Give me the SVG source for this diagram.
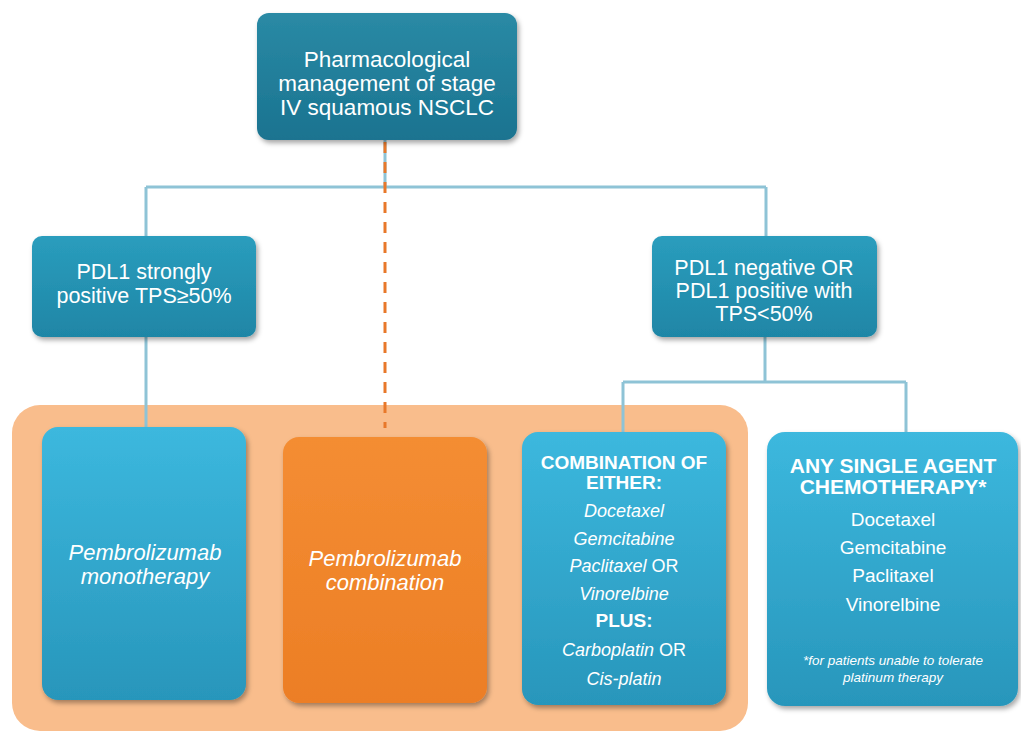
<svg xmlns="http://www.w3.org/2000/svg" width="1021" height="733" viewBox="0 0 1021 733">
<defs>
<linearGradient id="gTop" x1="0" y1="0" x2="0" y2="1"><stop offset="0" stop-color="#2a8aa5"/><stop offset="1" stop-color="#1a7390"/></linearGradient>
<linearGradient id="gMid" x1="0" y1="0" x2="0" y2="1"><stop offset="0" stop-color="#2a9dbd"/><stop offset="1" stop-color="#1f86a6"/></linearGradient>
<linearGradient id="gLow" x1="0" y1="0" x2="0" y2="1"><stop offset="0" stop-color="#3cb8de"/><stop offset="1" stop-color="#2896bb"/></linearGradient>
<linearGradient id="gOr" x1="0" y1="0" x2="0" y2="1"><stop offset="0" stop-color="#f48d33"/><stop offset="1" stop-color="#ec7e25"/></linearGradient>
<filter id="sh" x="-10%" y="-10%" width="125%" height="125%"><feDropShadow dx="2" dy="3" stdDeviation="2.5" flood-color="#000" flood-opacity="0.35"/></filter>
</defs>
<style>
text{font-family:"Liberation Sans",Arial,sans-serif;fill:#fff;text-anchor:middle}
.t1{font-size:22.5px}
.t2{font-size:21.5px}
.it{font-style:italic}
.m{font-size:22px;font-style:italic}
.c{font-size:18px}
.cb{font-size:19px;font-weight:bold}
.s{font-size:19px}
.sb{font-size:21px;font-weight:bold}
.fn{font-size:13.5px;font-style:italic}
.ln{stroke:#8ec3d6;stroke-width:3;fill:none}
.dash{stroke:#e8782a;stroke-width:3;fill:none;stroke-dasharray:11 9}
</style>
<rect x="0" y="0" width="1021" height="733" fill="#fff"/>
<rect id="group-bg" x="12" y="405" width="736" height="326" rx="28" fill="#f9bd8c"/>
<g id="connectors">
<path class="ln" d="M385 140 V187 M146 187 H766 M146 187 V236 M766 187 V236 M146 337 V428 M765 337 V382 M623 382 H906 M623 382 V432 M906 382 V432"/>
<path class="dash" d="M385 142 V428"/>
</g>
<g id="n-top">
<rect x="257" y="13" width="260" height="127" rx="12" fill="url(#gTop)" filter="url(#sh)"/>
<text class="t1" x="387" y="67">Pharmacological</text>
<text class="t1" x="387" y="91">management of stage</text>
<text class="t1" x="387" y="115">IV squamous NSCLC</text>
</g>
<g id="n-pos">
<rect x="32" y="236" width="224" height="101" rx="10" fill="url(#gMid)" filter="url(#sh)"/>
<text class="t2" x="144" y="279">PDL1 strongly</text>
<text class="t2" x="144" y="303">positive TPS≥50%</text>
</g>
<g id="n-neg">
<rect x="652" y="236" width="225" height="101" rx="10" fill="url(#gMid)" filter="url(#sh)"/>
<text class="t2" x="764" y="275">PDL1 negative OR</text>
<text class="t2" x="764" y="298">PDL1 positive with</text>
<text class="t2" x="764" y="321">TPS&lt;50%</text>
</g>
<g id="n-mono">
<rect x="42" y="427" width="204" height="273" rx="16" fill="url(#gLow)" filter="url(#sh)"/>
<text class="m" x="145" y="560">Pembrolizumab</text>
<text class="m" x="145" y="584">monotherapy</text>
</g>
<g id="n-comb">
<rect x="283" y="437" width="204" height="266" rx="16" fill="url(#gOr)" filter="url(#sh)"/>
<text class="m" x="385" y="566">Pembrolizumab</text>
<text class="m" x="385" y="590">combination</text>
</g>
<g id="n-combo">
<rect x="522" y="432" width="204" height="273" rx="16" fill="url(#gLow)" filter="url(#sh)"/>
<text class="cb" x="624" y="469">COMBINATION OF</text>
<text class="cb" x="624" y="489">EITHER:</text>
<text class="c it" x="624" y="517">Docetaxel</text>
<text class="c it" x="624" y="545">Gemcitabine</text>
<text class="c" x="624" y="572"><tspan font-style="italic">Paclitaxel</tspan> OR</text>
<text class="c it" x="624" y="600">Vinorelbine</text>
<text class="cb" x="624" y="627">PLUS:</text>
<text class="c" x="624" y="656"><tspan font-style="italic">Carboplatin</tspan> OR</text>
<text class="c it" x="624" y="685">Cis-platin</text>
</g>
<g id="n-single">
<rect x="767" y="432" width="251" height="274" rx="18" fill="url(#gLow)" filter="url(#sh)"/>
<text class="sb" x="893" y="473">ANY SINGLE AGENT</text>
<text class="sb" x="893" y="494">CHEMOTHERAPY*</text>
<text class="s" x="893" y="526">Docetaxel</text>
<text class="s" x="893" y="554">Gemcitabine</text>
<text class="s" x="893" y="582">Paclitaxel</text>
<text class="s" x="893" y="611">Vinorelbine</text>
<text class="fn" x="893" y="665">*for patients unable to tolerate</text>
<text class="fn" x="893" y="682">platinum therapy</text>
</g>
</svg>
